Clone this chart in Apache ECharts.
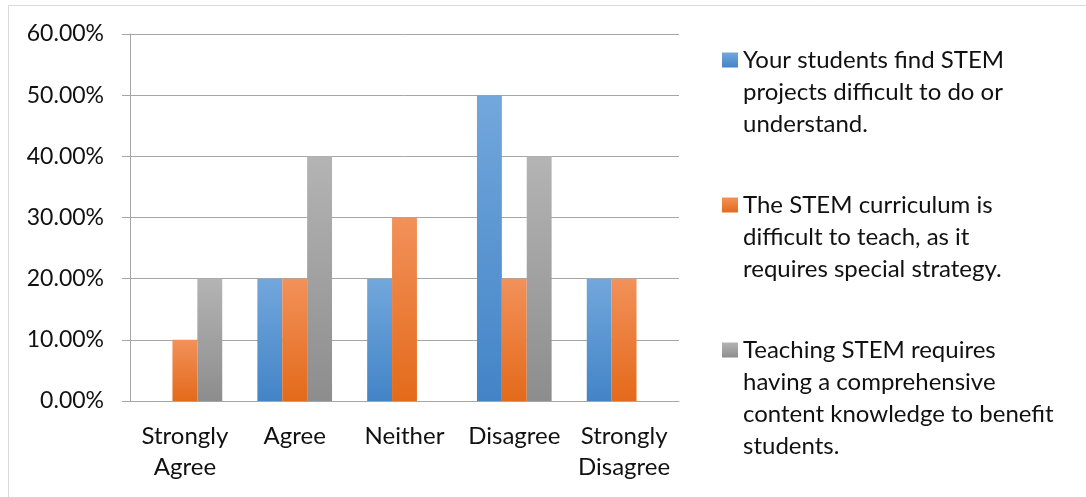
<!DOCTYPE html>
<html>
<head>
<meta charset="utf-8">
<script src="https://cdn.jsdelivr.net/npm/echarts@6/dist/echarts.min.js"></script>
<style>
  html, body { margin: 0; padding: 0; background: #fff; }
  #chart { width: 1086px; height: 497px; }
</style>
</head>
<body>
<div id="chart"></div>
<script>
// data
const categories = ['Strongly Agree', 'Agree', 'Neither', 'Disagree', 'Strongly Disagree'];
const seriesNames = [
    'Your students find STEM\nprojects difficult to do or\nunderstand.',
    'The STEM curriculum is\ndifficult to teach, as it\nrequires special strategy.',
    'Teaching STEM requires\nhaving a comprehensive\ncontent knowledge to benefit\nstudents.'
];
const findDifficult = [0, 0.20, 0.20, 0.50, 0.20];
const hardToTeach = [0.10, 0.20, 0.30, 0.20, 0.20];
const needsKnowledge = [0.20, 0.40, 0, 0.40, 0];
const yTicks = [0, 0.1, 0.2, 0.3, 0.4, 0.5, 0.6];

let chart = echarts.init(document.getElementById('chart'));

const font = 'Lato, "Open Sans", sans-serif';
const fontSize = 24;
const textColor = '#111';
const lineColor = '#a6a6a6';

function grad(top, bottom) {
    return new echarts.graphic.LinearGradient(0, 0, 0, 1, [
        {offset: 0, color: top},
        {offset: 1, color: bottom}
    ]);
}
const colors = [
    grad('#72a7dc', '#4384c7'),
    grad('#f2915a', '#e36a1a'),
    grad('#b4b4b4', '#8d8d8d')
];

// excel puts the marker next to the first line, echarts centres it on the
// text block, so blank lines are put in front to push line one to the marker
const legendLine = 32;
const markerY = [60, 205, 350];
const legends = seriesNames.map((name, i) => {
    const lines = name.split('\n').length;
    return {
        show: true,
        orient: 'vertical',
        left: 722,
        top: markerY[i] - (2 * lines - 1) * legendLine / 2,
        padding: 0,
        itemWidth: 16,
        itemHeight: 15,
        icon: 'rect',
        selectedMode: false,
        data: [name],
        formatter: n => '\n'.repeat(lines - 1) + n,
        textStyle: {
            fontFamily: font,
            fontSize: fontSize,
            lineHeight: legendLine,
            color: textColor
        }
    };
});

let option = {
    animation: false,
    legend: legends,
    grid: {
        left: 130,
        right: 407,
        top: 34,
        bottom: 96
    },
    xAxis: {
        type: 'category',
        data: categories,
        axisLine: {lineStyle: {color: lineColor, width: 1}},
        axisTick: {length: 9, lineStyle: {color: lineColor}},
        axisLabel: {
            interval: 0,
            margin: 20,
            fontFamily: font,
            fontSize: fontSize,
            lineHeight: 31,
            color: textColor,
            formatter: v => v.replace(' ', '\n')
        }
    },
    yAxis: {
        type: 'value',
        min: yTicks[0],
        max: yTicks[yTicks.length - 1],
        interval: 0.1,
        axisLine: {show: true, lineStyle: {color: lineColor, width: 1}},
        axisTick: {show: true, length: 8, lineStyle: {color: lineColor}},
        splitLine: {lineStyle: {color: lineColor, width: 1}},
        axisLabel: {
            margin: 26,
            fontFamily: font,
            fontSize: 23,
            color: textColor,
            formatter: v => (v * 100).toFixed(2) + '%'
        }
    },
    graphic: [{
        type: 'rect',
        shape: {x: 8.5, y: 5.5, width: 1100, height: 520},
        style: {fill: 'none', stroke: '#d9d9d9', lineWidth: 1},
        silent: true,
        z: -1
    }],
    series: [findDifficult, hardToTeach, needsKnowledge].map((vals, i) => ({
        name: seriesNames[i],
        type: 'bar',
        data: vals,
        barGap: '0%',
        barCategoryGap: '32%',
        itemStyle: {color: colors[i]}
    }))
};

chart.setOption(option);
</script>
</body>
</html>
